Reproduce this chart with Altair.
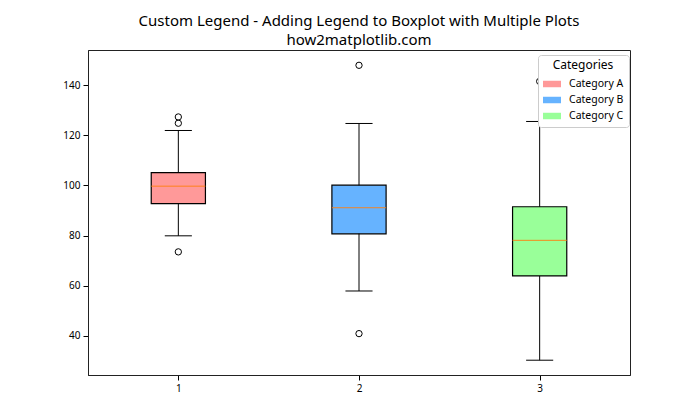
import altair as alt
import pandas as pd

categories = ["Category A", "Category B", "Category C"]
positions = [1, 2, 3]
colors = ["#ff9999", "#66b3ff", "#99ff99"]
q1 = [92.7, 80.7, 63.9]
median = [99.7, 91.1, 78.1]
q3 = [105.1, 100.1, 91.5]
whisker_low = [79.9, 57.9, 30.3]
whisker_high = [121.9, 124.7, 125.5]
outlier_pos = [1, 1, 1, 2, 2, 3]
outlier_values = [127.3, 124.8, 73.5, 147.9, 40.9, 141.5]

FONT = "Noto Sans"

box_df = pd.DataFrame({
    "category": categories, "pos": positions, "q1": q1, "median": median,
    "q3": q3, "lo": whisker_low, "hi": whisker_high,
})
out_df = pd.DataFrame({"pos": outlier_pos, "value": outlier_values})

xscale = alt.Scale(domain=[0.5, 3.5], nice=False, zero=False)
yscale = alt.Scale(domain=[24.4, 154.0], nice=False, zero=False)

xaxis = alt.Axis(values=[1, 2, 3], format="d", title=None, grid=False,
                 tickColor="#000", tickSize=5, labelFontSize=10, labelFont=FONT,
                 labelColor="#000", domain=True, domainColor="#222",
                 labelPadding=3)
yaxis = alt.Axis(values=[40, 60, 80, 100, 120, 140], title=None, grid=False,
                 tickColor="#000", tickSize=5, labelFontSize=10, labelFont=FONT,
                 labelColor="#000", domain=True, domainColor="#222",
                 labelPadding=3)

base = alt.Chart(box_df).transform_calculate(
    bx1="datum.pos - 0.15", bx2="datum.pos + 0.15",
    cx1="datum.pos - 0.075", cx2="datum.pos + 0.075",
)

whiskers = base.mark_rule(color="black", strokeWidth=1).encode(
    x=alt.X("pos:Q", scale=xscale, axis=xaxis),
    y=alt.Y("lo:Q", scale=yscale, axis=yaxis),
    y2="hi:Q",
)

boxes = base.mark_rect(stroke="black", strokeWidth=1.2).encode(
    x="bx1:Q", x2="bx2:Q", y="q1:Q", y2="q3:Q",
    fill=alt.Fill("category:N",
                  scale=alt.Scale(domain=categories, range=colors),
                  legend=alt.Legend(
                      title="Categories", orient="none", legendX=450, legendY=5,
                      titleFont=FONT, titleFontSize=12, titleFontWeight="normal",
                      titleColor="#000", titleAnchor="middle",
                      labelFont=FONT, labelFontSize=10.5, labelColor="#000",
                      symbolType="M-1,-0.36L1,-0.36L1,0.36L-1,0.36Z",
                      symbolSize=324, symbolStrokeWidth=0, symbolOpacity=1,
                      rowPadding=1, labelOffset=8,
                      padding=5, strokeColor="#cccccc", fillColor="white",
                      cornerRadius=3, titlePadding=3,
                  )),
)

medians = base.mark_rule(color="#ff7f0e", strokeWidth=0.9).encode(
    x="bx1:Q", x2="bx2:Q", y="median:Q",
)

caps_lo = base.mark_rule(color="black", strokeWidth=1).encode(
    x="cx1:Q", x2="cx2:Q", y="lo:Q",
)
caps_hi = base.mark_rule(color="black", strokeWidth=1).encode(
    x="cx1:Q", x2="cx2:Q", y="hi:Q",
)

outliers = alt.Chart(out_df).mark_point(
    shape="circle", filled=False, color="black", size=40, strokeWidth=1, opacity=1
).encode(x="pos:Q", y="value:Q")

chart = alt.layer(whiskers, boxes, medians, caps_lo, caps_hi, outliers).properties(
    width=542, height=325,
    padding={"left": 80, "top": 42, "right": 62, "bottom": 37},
    autosize=alt.AutoSizeParams(type="none"),
    title=alt.TitleParams(
        text=["Custom Legend - Adding Legend to Boxplot with Multiple Plots",
              "how2matplotlib.com"],
        anchor="middle", font=FONT, fontSize=15, fontWeight="normal",
        color="#000", lineHeight=19, offset=2,
    ),
).configure(background="white").configure_view(stroke="#222", strokeWidth=1)

chart.save("out.html", embed_options={"renderer": "svg", "actions": False})
